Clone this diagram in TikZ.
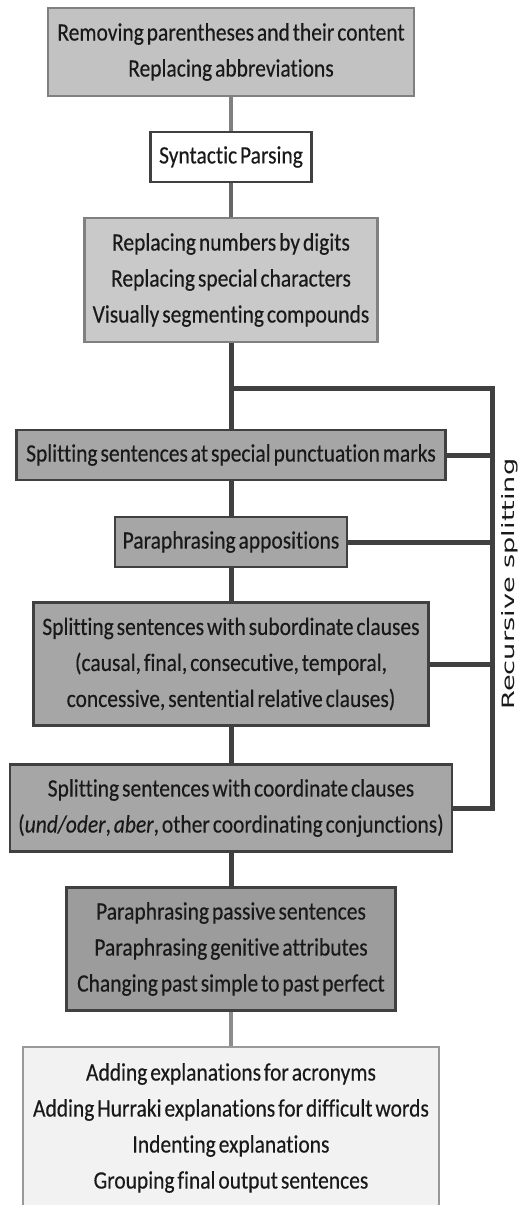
\documentclass[tikz,border=0pt]{standalone}
\usepackage{fontspec}
\newfontfamily\boxfont[FakeStretch=0.86,WordSpace=0.6,FakeBold=0.3,Ligatures=NoCommon]{Carlito}
\newfontfamily\railfont[FakeStretch=1.6]{DejaVu Sans}
\begin{document}
\begin{tikzpicture}[x=1pt,y=-1pt,
  stage/.style={draw,line width=2.4pt,inner sep=0pt,align=center,text=black!90,
    font=\boxfont\fontsize{25}{36}\selectfont},
  light/.style={stage,fill=black!24,draw=black!50},
  plain/.style={stage,fill=white,draw=black!75},
  split/.style={stage,fill=black!35,draw=black!75},
  final/.style={stage,fill=black!5,draw=black!40},
  thin link/.style={black!50,line width=3.5pt},
  thick link/.style={black!75,line width=5pt}]
\useasboundingbox (0,0) rectangle (520,1205);
\clip (0,0) rectangle (520,1205);
\node[light,minimum width=366,minimum height=88] (pre) at (231,52)
  {Removing parentheses and their content\\ Replacing abbreviations};
\node[plain,minimum width=161,minimum height=50] (parse) at (231,157) {Syntactic Parsing};
\node[light,fill=black!21,minimum width=293,minimum height=124] (norm) at (231,280)
  {Replacing numbers by digits\\ Replacing special characters\\ Visually segmenting compounds};
\node[split,minimum width=429,minimum height=50] (punct) at (231,455)
  {Splitting sentences at special punctuation marks};
\node[split,minimum width=232,minimum height=50] (appos) at (231,542) {Paraphrasing appositions};
\node[split,minimum width=395,minimum height=123] (subord) at (231,664)
  {Splitting sentences with subordinate clauses\\ (causal, final, consecutive, temporal,\\ concessive, sentential relative clauses)};
\node[split,minimum width=442,minimum height=87] (coord) at (231,808)
  {Splitting sentences with coordinate clauses\\ (\textit{und/oder}, \textit{aber}, other coordinating conjunctions)};
\node[split,fill=black!39,minimum width=329,minimum height=123] (passive) at (231,949)
  {Paraphrasing passive sentences\\ Paraphrasing genitive attributes\\ Changing past simple to past perfect};
\node[final,minimum width=416,minimum height=162] (final) at (231,1128)
  {Adding explanations for acronyms\\ Adding Hurraki explanations for difficult words\\ Indenting explanations\\ Grouping final output sentences};
\coordinate (fork) at (231,388);
\coordinate (rail) at (492,388);
\draw[thin link] (pre) -- (parse);
\draw[thin link,black!60] (parse) -- (norm);
\draw[thick link] (norm) -- (punct);
\draw[thick link] (punct) -- (appos);
\draw[thick link] (appos) -- (subord);
\draw[thick link] (subord) -- (coord);
\draw[thick link] (coord) -- (passive);
\draw[thin link,black!45] (passive) -- (final);
% loop back for the recursive splitting
\draw[thick link,line cap=rect] (fork) -- (rail) -- (rail |- coord.east) -- (coord.east);
\draw[thick link] (punct.east) -- (punct.east -| rail);
\draw[thick link] (appos.east) -- (appos.east -| rail);
\draw[thick link] (subord.east) -- (subord.east -| rail);
\node[rotate=90,font=\railfont\fontsize{17}{20}\selectfont,text=black!90] (recur) at (510,584) {Recursive splitting};
\end{tikzpicture}
\end{document}
